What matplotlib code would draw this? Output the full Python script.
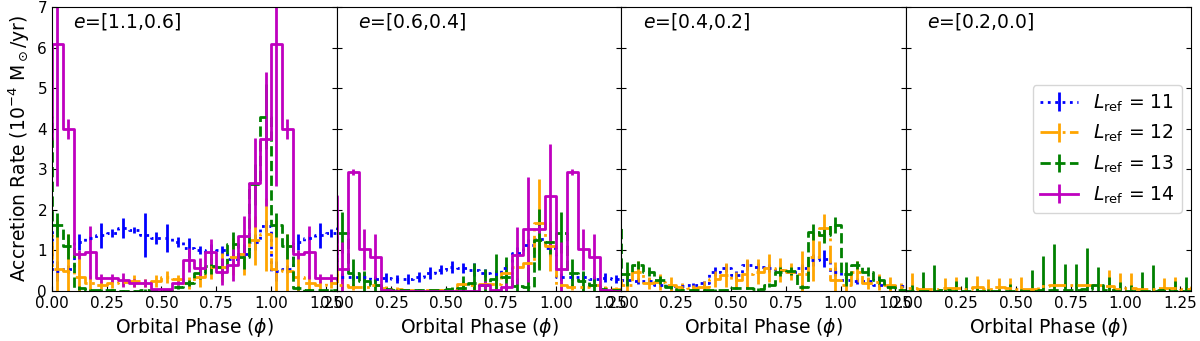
import matplotlib
matplotlib.use('Agg')
import matplotlib.pyplot as plt
import numpy as np

# accretion rate per orbital phase bin (20 bins of 0.05), one list per eccentricity panel
panel_titles = ['$e$=[1.1,0.6]', '$e$=[0.6,0.4]', '$e$=[0.4,0.2]', '$e$=[0.2,0.0]']
lref = [11, 12, 13, 14]

rate_11 = [
    [0.5, 0.55, 1.2, 1.3, 1.37, 1.42, 1.55, 1.5, 1.38, 1.3, 1.3, 1.2, 1.06, 1.0, 0.95, 1.0, 0.8, 0.9, 1.2, 1.6],
    [0.34, 0.35, 0.35, 0.3, 0.33, 0.3, 0.3, 0.35, 0.45, 0.53, 0.6, 0.56, 0.53, 0.45, 0.42, 0.56, 0.93, 1.13, 1.27, 1.06],
    [0.27, 0.25, 0.25, 0.15, 0.12, 0.12, 0.15, 0.19, 0.48, 0.56, 0.39, 0.64, 0.6, 0.56, 0.52, 0.48, 0.56, 0.76, 0.8, 0.48],
    None,
]
err_11 = [
    [0.25, 0.1, 0.2, 0.05, 0.3, 0.1, 0.25, 0.08, 0.55, 0.15, 0.35, 0.12, 0.25, 0.1, 0.2, 0.1, 0.2, 0.1, 0.2, 0.15],
    [0.1, 0.08, 0.12, 0.08, 0.12, 0.1, 0.12, 0.12, 0.15, 0.12, 0.15, 0.12, 0.15, 0.1, 0.1, 0.1, 0.15, 0.15, 0.25, 0.2],
    [0.1, 0.08, 0.08, 0.05, 0.05, 0.05, 0.05, 0.06, 0.12, 0.1, 0.1, 0.12, 0.1, 0.1, 0.1, 0.08, 0.1, 0.15, 0.2, 0.1],
    None,
]

rate_12 = [
    [0.55, 0.5, 0.35, 0.19, 0.15, 0.2, 0.22, 0.25, 0.2, 0.25, 0.35, 0.3, 0.2, 0.35, 0.6, 0.58, 0.85, 0.9, 1.25, 1.4],
    [0.14, 0.1, 0.1, 0.14, 0.07, 0.05, 0.03, 0.03, 0.02, 0.02, 0.02, 0.17, 0.15, 0.17, 0.18, 0.45, 0.6, 0.7, 1.67, 1.1],
    [0.15, 0.48, 0.19, 0.22, 0.14, 0.09, 0.07, 0.09, 0.3, 0.39, 0.27, 0.43, 0.48, 0.56, 0.52, 0.48, 0.43, 0.85, 1.55, 0.27],
    [0.07, 0.06, 0.05, 0.07, 0.08, 0.06, 0.1, 0.06, 0.1, 0.08, 0.06, 0.05, 0.12, 0.14, 0.15, 0.15, 0.14, 0.14, 0.12, 0.06],
]
err_12 = [
    [1.2, 0.9, 0.6, 0.2, 0.1, 0.12, 0.1, 0.15, 0.1, 0.15, 0.15, 0.1, 0.15, 0.25, 0.3, 0.35, 0.45, 0.5, 0.6, 0.9],
    [0.1, 0.08, 0.05, 0.05, 0.05, 0.05, 0.03, 0.03, 0.02, 0.02, 0.05, 0.08, 0.1, 0.1, 0.15, 0.2, 0.35, 0.5, 1.1, 0.6],
    [0.35, 0.25, 0.15, 0.2, 0.2, 0.1, 0.08, 0.15, 0.2, 0.3, 0.2, 0.35, 0.3, 0.35, 0.3, 0.2, 0.55, 0.6, 0.35, 0.45],
    [0.37, 0.03, 0.03, 0.26, 0.27, 0.05, 0.27, 0.23, 0.21, 0.23, 0.29, 0.03, 0.05, 0.05, 0.05, 0.05, 0.05, 0.05, 0.4, 0.38],
]

rate_13 = [
    [1.63, 1.1, 0.08, 0.02, 0.02, 0.02, 0.01, 0.01, 0.03, 0.02, 0.02, 0.1, 0.2, 0.45, 0.62, 0.6, 1.15, 0.85, 2.63, 4.3],
    [1.44, 0.45, 0.25, 0.15, 0.05, 0.02, 0.02, 0.02, 0.02, 0.02, 0.05, 0.08, 0.2, 0.15, 0.3, 0.35, 0.12, 0.1, 1.26, 1.2],
    [0.42, 0.64, 0.48, 0.27, 0.09, 0.02, 0.02, 0.02, 0.02, 0.02, 0.07, 0.07, 0.04, 0.15, 0.48, 0.5, 0.09, 1.46, 1.38, 1.63],
    [0.01, 0.01, 0.0, 0.02, 0.01, 0.01, 0.01, 0.0, 0.0, 0.01, 0.0, 0.01, 0.02, 0.02, 0.02, 0.02, 0.05, 0.15, 0.02, 0.01],
]
err_13 = [
    [0.3, 0.3, 0.05, 0.02, 0.02, 0.02, 0.02, 0.02, 0.03, 0.02, 0.02, 0.05, 0.08, 0.15, 0.2, 0.2, 0.3, 0.3, 0.5, 0.8],
    [0.5, 0.35, 0.25, 0.2, 0.05, 0.02, 0.02, 0.02, 0.02, 0.02, 0.05, 0.3, 0.5, 0.4, 0.6, 0.5, 0.2, 0.5, 0.75, 0.3],
    [0.3, 0.1, 0.1, 0.1, 0.05, 0.02, 0.02, 0.02, 0.02, 0.02, 0.03, 0.03, 0.03, 0.05, 0.1, 0.1, 0.05, 0.2, 0.2, 0.2],
    [0.14, 0.47, 0.63, 0.09, 0.24, 0.34, 0.11, 0.05, 0.05, 0.16, 0.05, 0.51, 0.84, 1.15, 0.64, 0.65, 1.0, 0.45, 0.33, 0.22],
]

rate_14 = [
    [6.1, 4.0, 0.9, 0.95, 0.31, 0.33, 0.27, 0.2, 0.2, 0.04, 0.04, 0.19, 0.77, 0.56, 0.97, 0.48, 0.64, 1.36, 2.67, 3.74],
    [0.55, 2.93, 1.03, 0.85, 0.02, 0.01, 0.01, 0.01, 0.01, 0.01, 0.01, 0.01, 0.01, 0.15, 0.03, 0.1, 0.88, 1.52, 1.52, 2.33],
    None,
    None,
]
err_14 = [
    [3.5, 0.25, 0.1, 0.65, 0.12, 0.1, 0.17, 0.1, 0.1, 0.02, 0.02, 0.05, 0.3, 0.25, 0.3, 0.33, 0.4, 0.5, 1.1, 1.65],
    [0.65, 0.08, 0.5, 0.55, 0.02, 0.01, 0.01, 0.01, 0.01, 0.01, 0.01, 0.01, 0.01, 0.1, 0.02, 0.1, 0.7, 1.3, 0.1, 1.3],
    None,
    None,
]

rates = [rate_11, rate_12, rate_13, rate_14]
errs = [err_11, err_12, err_13, err_14]
colors = ['blue', 'orange', 'green', 'm']
styles = [':', '-.', '--', '-']

bin_width = 0.05
n_bins = 20

# repeat the orbit so the plot covers phase 0 -> 1.3 (and a bit beyond, clipped)
k = np.arange(-2, 28)
phase = k * bin_width + bin_width / 2

fig, axes = plt.subplots(1, 4, figsize=(12, 3.41), dpi=100, sharey=True)
plt.subplots_adjust(left=0.0433, right=0.9925, bottom=0.1466, top=0.9795, wspace=0)

for i, ax in enumerate(axes):
    for j in range(4):
        if rates[j][i] is None:
            # keep legend entries consistent
            continue
        y = np.array(rates[j][i])[k % n_bins]
        e = np.array(errs[j][i])[k % n_bins]
        ax.errorbar(phase, y, yerr=e, drawstyle='steps-mid', ls=styles[j], color=colors[j],
                    lw=2, elinewidth=2, label=r'$L_{\rm ref}$ = %d' % lref[j])
    ax.set_xlim(0, 1.3)
    ax.set_ylim(0, 7)
    ax.set_xticks([0, 0.25, 0.5, 0.75, 1.0, 1.25])
    ax.set_xticklabels(['0.00', '0.25', '0.50', '0.75', '1.00', '1.25'])
    ax.set_yticks(range(8))
    ax.tick_params(direction='in', right=True, labelsize=11)
    ax.set_xlabel(r'Orbital Phase ($\phi$)', fontsize=13.5)
    ax.text(0.074, 0.985, panel_titles[i], transform=ax.transAxes, va='top', fontsize=13.5)

axes[0].set_ylabel(r'Accretion Rate (10$^{-4}$ M$_\odot$/yr)', fontsize=13.5)

h, l = axes[0].get_legend_handles_labels()
axes[3].legend(h, l, loc='center right', fontsize=13.5)

plt.savefig('out.png', dpi=100)
